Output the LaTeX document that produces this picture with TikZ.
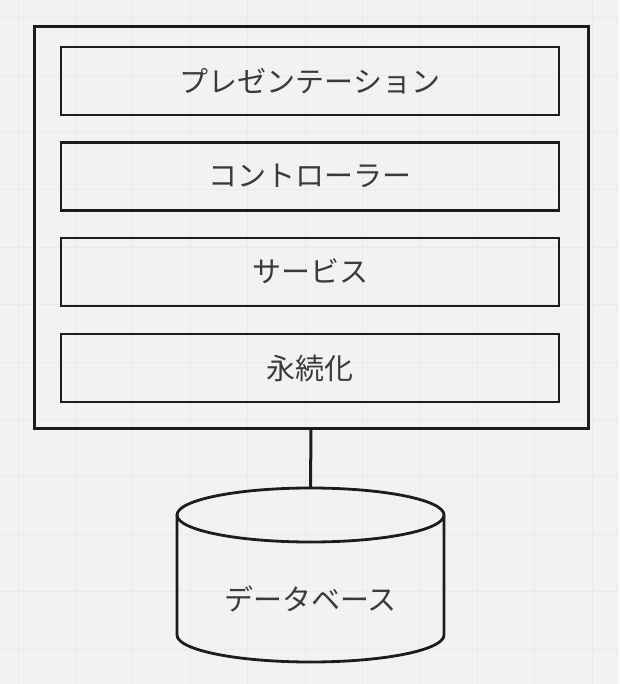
\documentclass[tikz,border=0pt]{standalone}
\usepackage{fontspec}
\newfontfamily\jp{Noto Sans CJK JP}
\definecolor{bg}{HTML}{F2F2F2}
\definecolor{gridc}{HTML}{EAEAEA}
\definecolor{ink}{HTML}{1C1C1C}
\definecolor{txt}{HTML}{3A3A3A}
\begin{document}
\begin{tikzpicture}[x=1pt,y=-1pt,
  layerbox/.style={draw=ink, line width=2.6pt, minimum width=498pt, minimum height=68pt, inner sep=0pt,
    font=\jp\fontsize{29}{32}\selectfont, text=txt},
  outerbox/.style={draw=ink, line width=3pt, minimum width=554pt, minimum height=401pt, inner sep=0pt},
  conn/.style={draw=ink, line width=3pt}]
\useasboundingbox (0,0) rectangle (619,684);
\fill[bg] (0,0) rectangle (619,684);
\foreach \i in {0,...,10} {\draw[gridc, line width=0.8pt] (18+57.4*\i,0) -- (18+57.4*\i,684);}
\foreach \j in {0,...,11} {\draw[gridc, line width=0.8pt] (0,17.6+57.4*\j) -- (619,17.6+57.4*\j);}
\node[outerbox] (outer) at (311,227.5) {};
\node[layerbox] (pres) at (310,81) {\raisebox{2pt}{プレゼンテーション}};
\node[layerbox] (ctrl) at (310,176.5) {\raisebox{2pt}{コントローラー}};
\node[layerbox] (svc) at (310,272) {\raisebox{2pt}{サービス}};
\node[layerbox] (pers) at (310,368) {\raisebox{2pt}{永続化}};
% database cylinder
\draw[ink, line width=2.8pt] (310.5,515) ellipse [x radius=133.5, y radius=27];
\draw[ink, line width=2.8pt] (177,515) -- (177,635) arc[start angle=180, end angle=360, x radius=133.5, y radius=-27] -- (444,515);
\coordinate (dbtop) at (310.5,488);
\node[font=\jp\fontsize{29}{32}\selectfont, text=txt] (db) at (310.5,599) {データベース};
\draw[conn] (outer.south) -- (dbtop);
\end{tikzpicture}
\end{document}
